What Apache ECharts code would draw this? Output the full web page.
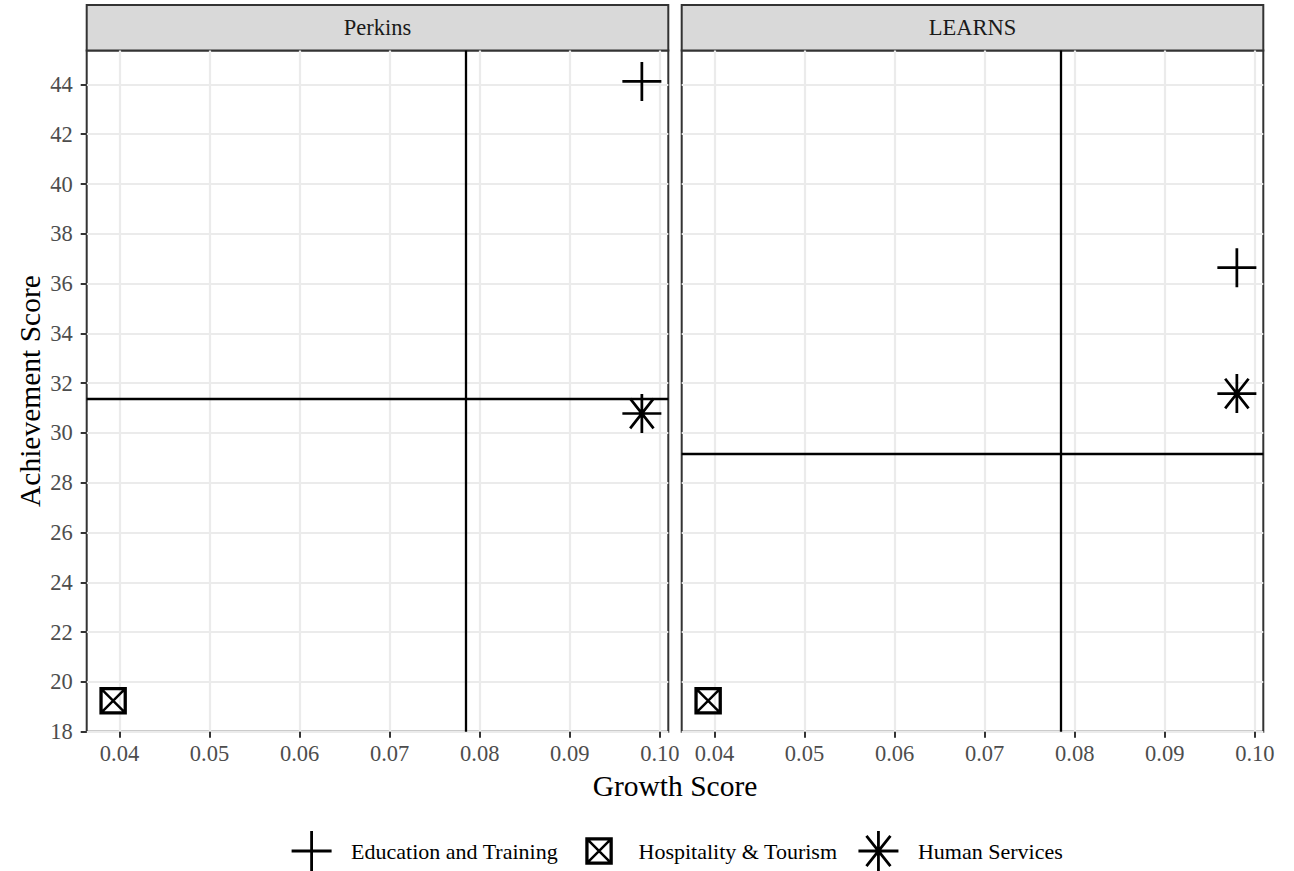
<!DOCTYPE html>
<html><head><meta charset="utf-8">
<script src="https://cdn.jsdelivr.net/npm/echarts@6/dist/echarts.min.js"></script>
<style>html,body{margin:0;padding:0;background:#fff}#c{width:1294px;height:871px}</style>
</head><body><div id="c"></div>
<script>
// ---------- data ----------
const facets = ['Perkins', 'LEARNS'];
const categories = ['Education and Training', 'Hospitality & Tourism', 'Human Services'];
const growthScore = [0.0980, 0.0393, 0.0980];
const achievementPerkins = [44.12, 19.24, 30.78];
const achievementLearns = [36.64, 19.24, 31.58];
const growthMean = [0.0784, 0.0784];
const achievementMean = [31.37, 29.16];
const xTicks = [0.04, 0.05, 0.06, 0.07, 0.08, 0.09, 0.10];
const yTicks = [18, 20, 22, 24, 26, 28, 30, 32, 34, 36, 38, 40, 42, 44];

// ---------- helpers ----------
function seg(x1, y1, x2, y2, w) {
  const dx = x2 - x1, dy = y2 - y1, L = Math.hypot(dx, dy);
  const nx = -dy / L * w / 2, ny = dx / L * w / 2;
  let p = [[x1 + nx, y1 + ny], [x2 + nx, y2 + ny], [x2 - nx, y2 - ny], [x1 - nx, y1 - ny]];
  let a = 0;
  for (let i = 0; i < 4; i++) { const j = (i + 1) % 4; a += p[i][0] * p[j][1] - p[j][0] * p[i][1]; }
  if (a < 0) p.reverse();
  return 'M' + p.map(q => q[0].toFixed(2) + ' ' + q[1].toFixed(2)).join(' L') + ' Z ';
}
function plusPath(w) { return 'path://' + seg(0, 50, 100, 50, w) + seg(50, 0, 50, 100, w); }
function starPath(w) {
  return 'path://' + seg(0, 50, 100, 50, w) + seg(50, 0, 50, 100, w) +
    seg(20, 12, 80, 88, w) + seg(80, 12, 20, 88, w);
}
function squarePath(b, wx, lo, hi) {
  const s = (hi - lo) / 100, m = v => lo + v * s;
  let d = seg(m(0), m(b / 2), m(100), m(b / 2), b * s) + seg(m(0), m(100 - b / 2), m(100), m(100 - b / 2), b * s) +
    seg(m(b / 2), m(0), m(b / 2), m(100), b * s) + seg(m(100 - b / 2), m(0), m(100 - b / 2), m(100), b * s) +
    seg(m(b / 2), m(b / 2), m(100 - b / 2), m(100 - b / 2), wx * s) + seg(m(100 - b / 2), m(b / 2), m(b / 2), m(100 - b / 2), wx * s);
  if (lo > 0) d += 'M0 0 L0.05 0 L0 0.05 Z M100 100 L99.95 100 L100 99.95 Z';
  return 'path://' + d;
}

const symbols = [plusPath(7), squarePath(12, 9, 0, 100), starPath(7)];
const legendIcons = [plusPath(7), squarePath(12, 9, 15.6, 84.4), starPath(7)];
const sizes = [39, 27.5, 39];

// ggplot-style 5% expansion
const allY = achievementPerkins.concat(achievementLearns);
const gx0 = Math.min(...growthScore), gx1 = Math.max(...growthScore);
const gy0 = Math.min(...allY), gy1 = Math.max(...allY);
const xMin = gx0 - 0.05 * (gx1 - gx0), xMax = gx1 + 0.05 * (gx1 - gx0);
const yMin = gy0 - 0.05 * (gy1 - gy0), yMax = gy1 + 0.05 * (gy1 - gy0);

const FONT = '"Liberation Serif", "Times New Roman", serif';
const panelLeft = [86.7, 681.7], panelW = 581.6, panelTop = 50.5, panelH = 681.2;
const achievement = [achievementPerkins, achievementLearns];

const grids = [], xAxes = [], yAxes = [], series = [], graphics = [];
facets.forEach((f, k) => {
  grids.push({ left: panelLeft[k], top: panelTop, width: panelW, height: panelH, show: true,
    borderColor: '#333333', borderWidth: 2, backgroundColor: 'transparent', containLabel: false, outerBoundsMode: 'none' });
  xAxes.push({ type: 'value', gridIndex: k, min: xMin, max: xMax,
    axisLine: { show: false, onZero: false },
    axisTick: { show: true, customValues: xTicks, length: 6, lineStyle: { color: '#333333', width: 2 } },
    axisLabel: { customValues: xTicks, color: '#4D4D4D', fontFamily: FONT, fontSize: 22.5, margin: 10,
      formatter: v => v.toFixed(2) },
    splitLine: { show: true, lineStyle: { color: '#EBEBEB', width: 2.2 } } });
  yAxes.push({ type: 'value', gridIndex: k, min: yMin, max: yMax,
    name: k === 0 ? 'Achievement Score' : '', nameLocation: 'middle', nameGap: 42,
    nameTextStyle: { fontFamily: FONT, fontSize: 29.5, color: '#000' },
    axisLine: { show: false, onZero: false },
    axisTick: { show: k === 0, customValues: yTicks, length: 6, lineStyle: { color: '#333333', width: 2 } },
    axisLabel: { show: k === 0, customValues: yTicks, color: '#4D4D4D', fontFamily: FONT, fontSize: 22.5, margin: 14,
      formatter: v => String(Math.round(v)) },
    splitLine: { show: true, lineStyle: { color: '#EBEBEB', width: 2.2 } } });
  series.push({ type: 'scatter', name: 'ref-' + f, xAxisIndex: k, yAxisIndex: k, data: [], silent: true,
    markLine: { silent: true, symbol: ['none', 'none'], label: { show: false }, animation: false, precision: 8,
      lineStyle: { color: '#000', width: 2.3, type: 'solid' },
      data: [{ xAxis: growthMean[k] }, { yAxis: achievementMean[k] }] } });
  categories.forEach((c, i) => {
    series.push({ type: 'scatter', name: c, xAxisIndex: k, yAxisIndex: k, z: 5,
      data: [[growthScore[i], achievement[k][i]]], symbol: symbols[i], symbolSize: sizes[i],
      itemStyle: { color: '#000', opacity: 1 } });
  });
  graphics.push({ type: 'rect', shape: { x: panelLeft[k], y: 5, width: panelW, height: panelTop - 5 },
    style: { fill: '#D9D9D9', stroke: '#333333', lineWidth: 2 } });
  graphics.push({ type: 'text', x: panelLeft[k] + panelW / 2, y: (5 + panelTop) / 2,
    style: { text: f, font: '22.5px ' + FONT, fill: '#1A1A1A', textAlign: 'center', textVerticalAlign: 'middle' } });
});
graphics.push({ type: 'text', x: (panelLeft[0] + panelLeft[1] + panelW) / 2, y: 786,
  style: { text: 'Growth Score', font: '29.5px ' + FONT, fill: '#000', textAlign: 'center', textVerticalAlign: 'middle' } });

const chart = echarts.init(document.getElementById('c'), null, { renderer: 'svg' });
chart.setOption({
  animation: false,
  backgroundColor: '#fff',
  grid: grids, xAxis: xAxes, yAxis: yAxes, series: series, graphic: graphics,
  legend: { show: true, left: 286.6, top: 826, orient: 'horizontal', itemWidth: 40, itemHeight: 40, itemGap: 21,
    selectedMode: false,
    textStyle: { fontFamily: FONT, fontSize: 22, color: '#000', padding: [0, 0, 0, 14.5] },
    data: categories.map((c, i) => ({ name: c, icon: legendIcons[i], itemStyle: { color: '#000' } })) }
});
</script></body></html>
